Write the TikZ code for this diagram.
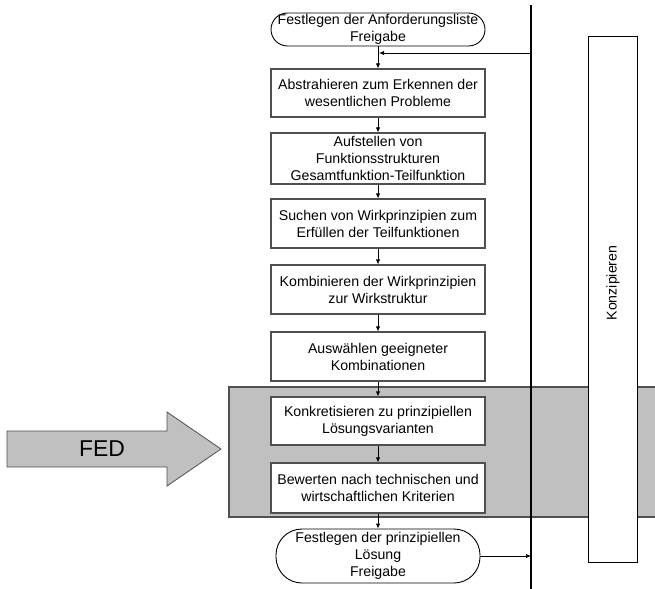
\documentclass[tikz,border=0pt]{standalone}
\usepackage{fontspec}
\setmainfont{Liberation Sans}
\usetikzlibrary{arrows.meta}
\definecolor{bandgray}{HTML}{C0C0C0}
\definecolor{edgegray}{HTML}{505050}
\begin{document}
\begin{tikzpicture}[x=1bp,y=-1bp,
  txt/.style={font=\fontsize{14.2}{17}\selectfont},
  box/.style={txt, draw=edgegray, line width=1.1bp, fill=white, minimum width=214bp, align=center, inner sep=0pt},
  term/.style={box, draw=black, line width=0.9bp},
  conn/.style={draw=black, line width=0.9bp, -{Latex[length=5bp,width=4.5bp]}},
  lane/.style={draw=black, line width=1.3bp}]
\useasboundingbox (0,0) rectangle (655,589);
% grey band
\fill[bandgray] (229,387) rectangle (660,517);
\draw[edgegray, line width=1.6bp] (660,387) -- (229,387) -- (229,517) -- (660,517);
% FED arrow
\draw[fill=bandgray, draw=edgegray, line width=0.8bp] (7,431) -- (167,431) -- (167,412) -- (221,449) -- (167,486) -- (167,467) -- (7,467) -- cycle;
\node[font=\fontsize{23}{26}\selectfont] (fed) at (102,449) {FED};
% Konzipieren box
\node[draw=black, line width=1bp, fill=white, minimum width=49bp, minimum height=525bp, inner sep=0pt] (konz) at (612.5,299.5) {};
\node[txt, rotate=90] (konztxt) at (613,283) {Konzipieren};
% vertical line
\coordinate (ltop) at (531,5);
\coordinate (lbot) at (531,589);
\draw[lane] (ltop) -- (lbot);
% nodes
\node[term, rounded corners=16.5bp, minimum height=33bp] (t1) at (378,29.5) {Festlegen der Anforderungsliste\\Freigabe};
\node[box, minimum height=48bp] (b1) at (378,93) {Abstrahieren zum Erkennen der\\wesentlichen Probleme};
\node[box, minimum height=51bp] (b2) at (378,158.5) {Aufstellen von\\Funktionsstrukturen\\Gesamtfunktion-Teilfunktion};
\node[box, minimum height=49bp] (b3) at (378,223.5) {Suchen von Wirkprinzipien zum\\Erfüllen der Teilfunktionen};
\node[box, minimum height=49bp] (b4) at (378,289.5) {Kombinieren der Wirkprinzipien\\zur Wirkstruktur};
\node[box, minimum height=49bp] (b5) at (378,356.5) {Auswählen geeigneter\\Kombinationen};
\node[box, minimum height=48bp] (b6) at (378,421) {Konkretisieren zu prinzipiellen\\Lösungsvarianten};
\node[box, minimum height=50bp] (b7) at (378,488) {Bewerten nach technischen und\\wirtschaftlichen Kriterien};
\node[term, rounded corners=26bp, minimum width=204bp, minimum height=54bp] (t2) at (378,556) {Festlegen der prinzipiellen\\Lösung\\Freigabe};
% connectors
\draw[conn] (t1) -- (b1);
\draw[conn] (b1) -- (b2);
\draw[conn] (b2) -- (b3);
\draw[conn] (b3) -- (b4);
\draw[conn] (b4) -- (b5);
\draw[conn] (b5) -- (b6);
\draw[conn] (b6) -- (b7);
\draw[conn] (b7) -- (t2);
\coordinate (fb1) at (531,53);
\coordinate (fb2) at (379,53);
\draw[conn] (fb1) -- (fb2);
\coordinate (out2) at (531,556);
\draw[conn] (t2.east) -- (out2);
\end{tikzpicture}
\end{document}
